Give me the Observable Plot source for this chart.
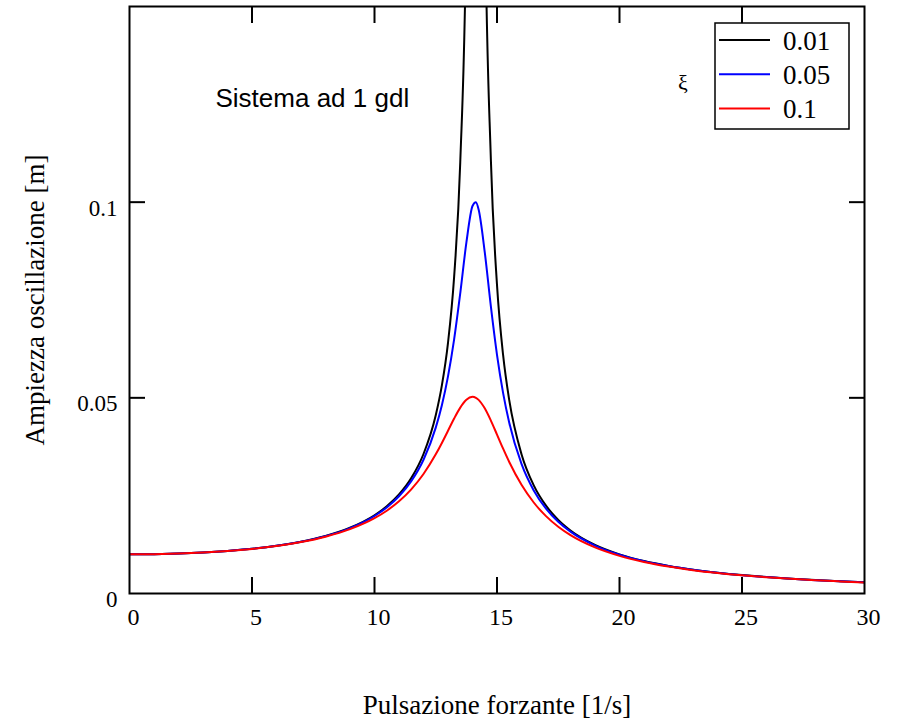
<!DOCTYPE html>
<html>
<head>
<meta charset="utf-8">
<script src="https://cdn.jsdelivr.net/npm/d3@7"></script>
<script src="https://cdn.jsdelivr.net/npm/@observablehq/plot@0.6"></script>
<style>
  body { margin: 0; background: #fff; }
  #wrap { position: relative; width: 897px; height: 726px; }
</style>
</head>
<body>
<div id="wrap"></div>
<script>
// Forcing pulsation [1/s]
const omega = [0,1,2,3,4,5,6,7,8,9,10,10.5,11,11.5,12,12.5,12.75,13,13.25,13.5,13.75,14,14.14,14.25,14.5,14.75,15,15.25,15.5,16,16.5,17,17.5,18,19,20,21,22,23,24,25,26,27,28,29,30];
// Oscillation amplitude [m] for xi = 0.01
const amp001 = [0.01,0.01005,0.010204,0.010471,0.01087,0.011429,0.012195,0.013245,0.014706,0.016807,0.019992,
  0.022272,0.025297,0.029486,0.035648,0.045566,0.053177,0.064067,0.080894,0.11016,0.17228,0.35533,0.5,0.39512,0.18116,0.1108,0.078872,0.060889,0.049397,
  0.035598,0.027624,0.022439,0.018803,0.016115,
  0.012415,0.009998,0.0082963,0.0070406,0.0060779,0.0053183,0.0047053,0.0042012,0.0037803,0.0034243,0.0031199,0.0028569];
// xi = 0.05
const amp005 = [0.01,0.01005,0.010203,0.010469,0.010864,0.011419,0.012179,0.013217,0.014655,0.016712,0.019803,
  0.021985,0.024839,0.028705,0.034179,0.042385,0.048131,0.055491,0.064947,0.076721,0.089644,0.099015,0.1,0.098115,0.08724,0.073345,0.061,0.051207,0.043638,
  0.033113,0.026342,0.021694,0.018333,0.0158,
  0.012253,0.0099015,0.0082365,0.0070004,0.0060495,0.0052976,0.0046897,0.0041892,0.0037709,0.0034168,0.0031137,0.0028519];
// xi = 0.1
const amp01 = [0.01,0.010049,0.0102,0.010461,0.010849,0.011391,0.01213,0.013133,0.014506,0.016435,0.019245,
  0.021156,0.023555,0.026612,0.030542,0.035556,0.038475,0.041585,0.044703,0.047497,0.049505,0.050252,0.05,0.049478,0.047311,0.044184,0.040614,0.037007,0.033605,
  0.027778,0.023253,0.019771,0.017063,0.01492,
  0.011783,0.0096225,0.0080576,0.0068791,0.0059636,0.0052345,0.0046421,0.0041524,0.0037419,0.0033936,0.0030949,0.0028364];

const dampingLabels = ["0.01", "0.05", "0.1"];
const seriesColors = ["#000000", "#0000ff", "#ff0000"];
const xTickLabels = [0, 5, 10, 15, 20, 25, 30];
const yTickLabels = [0, 0.05, 0.1];
const xInnerTicks = [5, 10, 15, 20, 25];
const yInnerTicks = [0.05, 0.1];
const xTitle = "Pulsazione forzante [1/s]";
const yTitle = "Ampiezza oscillazione [m]";
const annotation = "Sistema ad 1 gdl";
const legendTitle = "ξ";

const serif = "'Liberation Serif', 'Times New Roman', Times, serif";
const sans = "'Liberation Sans', Arial, Helvetica, sans-serif";

const seriesValues = [amp001, amp005, amp01];
const rows = [];
seriesValues.forEach((vals, s) => {
  vals.forEach((v, i) => rows.push({omega: omega[i], amp: v, xi: dampingLabels[s]}));
});

const lineMarks = dampingLabels.map((lab, s) =>
  Plot.line(rows.filter(d => d.xi === lab), {
    x: "omega", y: "amp", stroke: seriesColors[s], strokeWidth: 2,
    curve: "monotone-x", clip: true
  })
);

const chart = Plot.plot({
  width: 897,
  height: 726,
  marginTop: 6,
  marginRight: 33,
  marginBottom: 133,
  marginLeft: 129,
  style: {fontFamily: serif, background: "#fff", color: "#000"},
  x: {domain: [0, 30]},
  y: {domain: [0, 0.15]},
  marks: [
    ...lineMarks,
    // inward ticks
    Plot.axisX(xInnerTicks, {anchor: "bottom", tickSize: -16, strokeWidth: 2, tickFormat: () => "", label: null}),
    Plot.axisX(xInnerTicks, {anchor: "top", tickSize: -16, strokeWidth: 2, tickFormat: () => "", label: null}),
    Plot.axisY(yInnerTicks, {anchor: "left", tickSize: -16, strokeWidth: 2, tickFormat: () => "", label: null}),
    Plot.axisY(yInnerTicks, {anchor: "right", tickSize: -16, strokeWidth: 2, tickFormat: () => "", label: null}),
    // tick labels
    Plot.axisX(xTickLabels, {anchor: "bottom", tickSize: 0, tickPadding: 14, dx: 4, fontSize: 24, fontFamily: serif, tickFormat: d => String(d), label: null}),
    Plot.axisY(yTickLabels, {anchor: "left", tickSize: 0, tickPadding: 12, dy: 6, fontSize: 23, fontFamily: serif, tickFormat: d => String(d), label: null}),
    Plot.frame({stroke: "#000", strokeWidth: 2}),
    // axis titles
    Plot.text([xTitle], {text: d => d, frameAnchor: "bottom", lineAnchor: "bottom", dy: 120, fontSize: 27, fontFamily: serif, fill: "#000"}),
    Plot.text([yTitle], {text: d => d, frameAnchor: "left", textAnchor: "middle", lineAnchor: "bottom", rotate: -90, dx: -86, fontSize: 27, fontFamily: serif, fill: "#000"}),
    // annotation
    Plot.text([annotation], {text: d => d, frameAnchor: "top-left", textAnchor: "start", lineAnchor: "bottom", dx: 86, dy: 100, fontSize: 26, fontFamily: sans, fill: "#000"})
  ]
});

const wrap = document.getElementById("wrap");
wrap.appendChild(chart);

// Legend overlay (inside plot, top right)
const lg = d3.select(wrap).append("svg")
  .attr("width", 897).attr("height", 726)
  .style("position", "absolute").style("left", "0px").style("top", "0px")
  .style("pointer-events", "none");

lg.append("rect")
  .attr("x", 715).attr("y", 23).attr("width", 134).attr("height", 106)
  .attr("fill", "#fff").attr("stroke", "#000").attr("stroke-width", 1.5);

dampingLabels.forEach((lab, i) => {
  const yy = 40 + i * 34.3;
  lg.append("line").attr("x1", 719).attr("x2", 770).attr("y1", yy).attr("y2", yy)
    .attr("stroke", seriesColors[i]).attr("stroke-width", 2);
  lg.append("text").attr("x", 783).attr("y", yy + 9.5)
    .attr("font-family", serif).attr("font-size", 27).attr("fill", "#000").text(lab);
});

lg.append("text").attr("x", 683).attr("y", 90).attr("text-anchor", "middle")
  .attr("font-family", serif).attr("font-size", 22).attr("fill", "#000").text(legendTitle);
</script>
</body>
</html>
